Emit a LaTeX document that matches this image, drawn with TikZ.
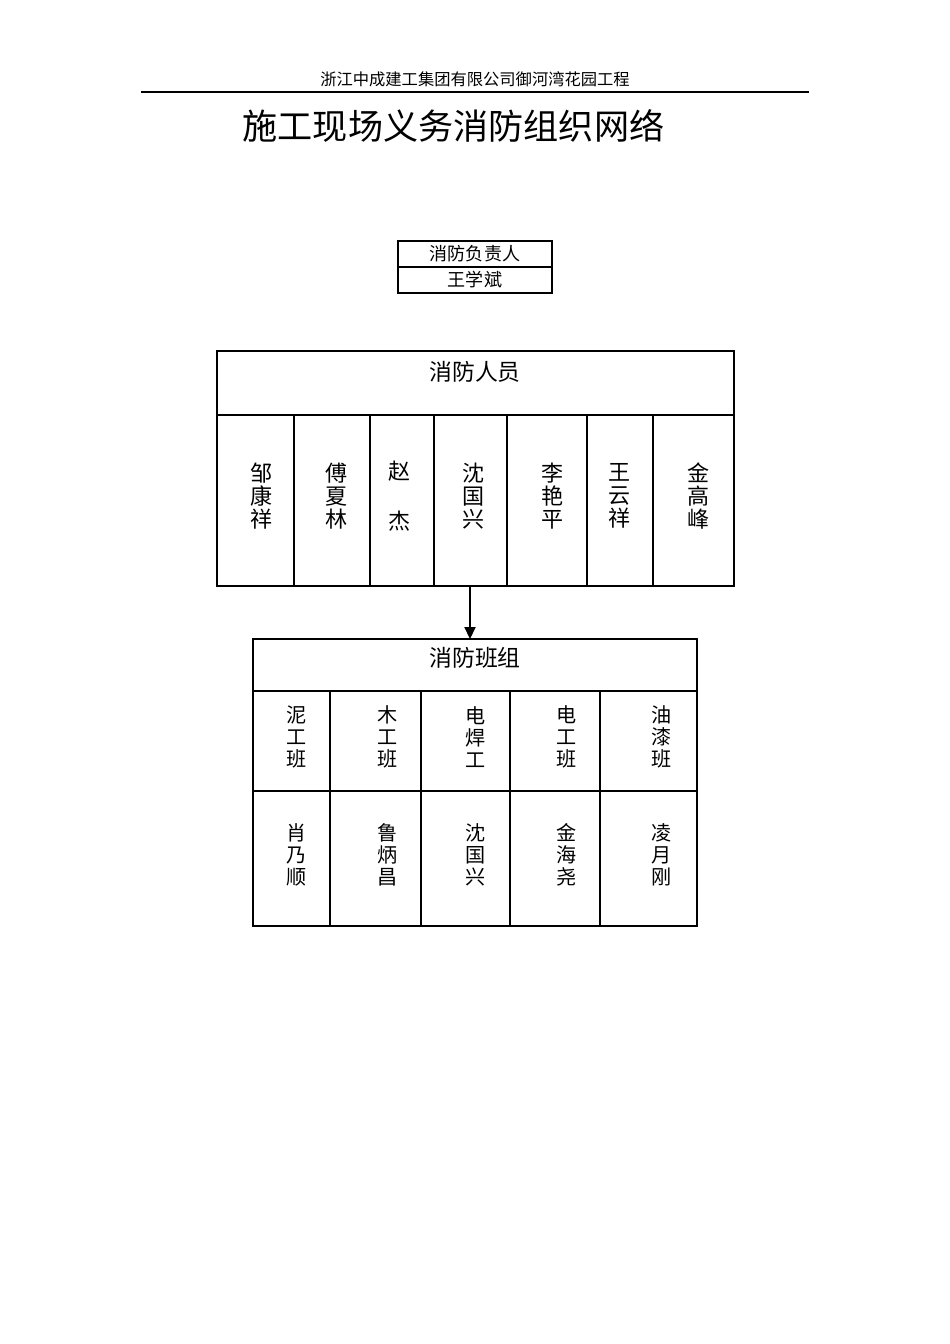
\documentclass[tikz,border=0pt]{standalone}
\usepackage{fontspec}
\newfontfamily\cjk{Noto Sans CJK SC}
\usetikzlibrary{fit,arrows.meta}
\tikzset{
  cellbox/.style={draw=black, line width=0.75pt, inner sep=0pt, outer sep=0pt},
  hdrtxt/.style={font=\cjk\fontsize{10.2pt}{12pt}\selectfont, inner sep=0pt},
  titletxt/.style={font=\cjk\fontsize{22pt}{24pt}\selectfont, inner sep=0pt},
  leadtxt/.style={font=\cjk\fontsize{11.3pt}{13pt}\selectfont, inner sep=0pt},
  headtxt/.style={font=\cjk\fontsize{14.3pt}{16pt}\selectfont, inner sep=0pt},
  nametxt/.style={font=\cjk\fontsize{13.8pt}{14.4pt}\selectfont, align=center, inner sep=0pt},
  teamtxt/.style={font=\cjk\fontsize{12.6pt}{13.8pt}\selectfont, align=center, inner sep=0pt},
  link/.style={draw=black, line width=0.8pt, -{Triangle[width=7pt,length=7.5pt]}}
}
\begin{document}
\begin{tikzpicture}[x=0.6263pt,y=-0.6263pt]
\useasboundingbox (0,0) rectangle (950,1344);
% header
\node[hdrtxt] (hdr) at (475,79) {浙江中成建工集团有限公司御河湾花园工程};
\coordinate (ruleL) at (141,92);
\coordinate (ruleR) at (809,92);
\draw[line width=1.2pt] (ruleL) -- (ruleR);
\node[titletxt] (title) at (453.5,126) {施工现场义务消防组织网络};
% leader box
\node[cellbox, fit={(398,241) (552,267)}] (leadA) {};
\node[cellbox, fit={(398,267) (552,293)}] (leadB) {};
\node[leadtxt] (leadAt) at (475,253.5) {消防负责人};
\node[leadtxt] (leadBt) at (475,279.5) {王学斌};
% staff box
\node[cellbox, fit={(217,351) (734,415)}] (staff) {};
\node[headtxt] (stafft) at (475,372) {消防人员};
\node[cellbox, fit={(217,415) (294,586)}] (s1) {};
\node[cellbox, fit={(294,415) (370,586)}] (s2) {};
\node[cellbox, fit={(370,415) (434,586)}] (s3) {};
\node[cellbox, fit={(434,415) (507,586)}] (s4) {};
\node[cellbox, fit={(507,415) (587,586)}] (s5) {};
\node[cellbox, fit={(587,415) (653,586)}] (s6) {};
\node[cellbox, fit={(653,415) (734,586)}] (s7) {};
\node[nametxt] (n1) at (262,496) {邹\\康\\祥};
\node[nametxt] (n2) at (337,496) {傅\\夏\\林};
\node[nametxt] (n3) at (400,496) {赵\\\strut\\杰};
\node[nametxt] (n4) at (474,496) {沈\\国\\兴};
\node[nametxt] (n5) at (553,496) {李\\艳\\平};
\node[nametxt] (n6) at (620,496) {王\\云\\祥};
\node[nametxt] (n7) at (699,496) {金\\高\\峰};
% teams box
\node[cellbox, fit={(253,639) (697,691)}] (teams) {};
\node[headtxt] (teamst) at (475,658) {消防班组};
\node[cellbox, fit={(253,691) (330,791)}] (t1) {};
\node[cellbox, fit={(330,691) (421,791)}] (t2) {};
\node[cellbox, fit={(421,691) (510,791)}] (t3) {};
\node[cellbox, fit={(510,691) (600,791)}] (t4) {};
\node[cellbox, fit={(600,691) (697,791)}] (t5) {};
\node[cellbox, fit={(253,791) (330,926)}] (m1) {};
\node[cellbox, fit={(330,791) (421,926)}] (m2) {};
\node[cellbox, fit={(421,791) (510,926)}] (m3) {};
\node[cellbox, fit={(510,791) (600,926)}] (m4) {};
\node[cellbox, fit={(600,791) (697,926)}] (m5) {};
\node[teamtxt] (tt1) at (297,737) {泥\\工\\班};
\node[teamtxt] (tt2) at (388,737) {木\\工\\班};
\node[teamtxt] (tt3) at (476,737) {电\\焊\\工};
\node[teamtxt] (tt4) at (567,737) {电\\工\\班};
\node[teamtxt] (tt5) at (662,737) {油\\漆\\班};
\node[teamtxt] (mt1) at (297,855) {肖\\乃\\顺};
\node[teamtxt] (mt2) at (388,855) {鲁\\炳\\昌};
\node[teamtxt] (mt3) at (476,855) {沈\\国\\兴};
\node[teamtxt] (mt4) at (567,855) {金\\海\\尧};
\node[teamtxt] (mt5) at (662,855) {凌\\月\\刚};
% arrow
\coordinate (ax) at (470,0);
\draw[link] (s4.south -| ax) -- (teams.north -| ax);
\end{tikzpicture}
\end{document}
